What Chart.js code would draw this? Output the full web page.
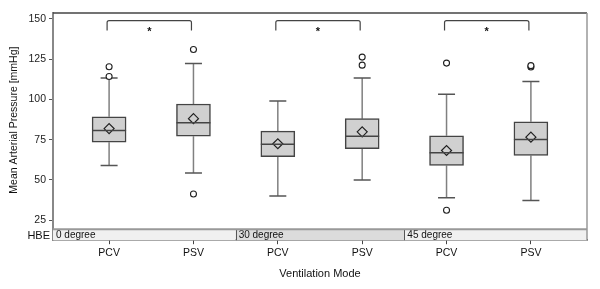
<!DOCTYPE html>
<html>
<head>
<meta charset="utf-8">
<script src="https://cdn.jsdelivr.net/npm/chart.js@4"></script>
<style>
  html, body { margin: 0; padding: 0; background: #fff; }
  #wrap { width: 600px; height: 289px; }
</style>
</head>
<body>
<div id="wrap"><canvas id="mapChart"></canvas></div>
<script>
// categories (x positions 0..5)
const modes = ['PCV', 'PSV', 'PCV', 'PSV', 'PCV', 'PSV'];
const panels = ['0 degree', '30 degree', '45 degree'];

// box statistics per category
const whiskerLow = [59, 54.3, 40, 50, 39, 37.2];
const q1 = [73.5, 77.2, 64.4, 69.4, 59, 65.2];
const median = [80.7, 85.5, 72.2, 77.2, 66.9, 75.1];
const q3 = [89.2, 97.2, 80.3, 88.1, 77.4, 86.1];
const whiskerHigh = [113.3, 122.4, 99.1, 113.3, 103.2, 111.2];
const means = [81.9, 88.1, 72.5, 79.9, 68.3, 76.6];
const outliers = [[114.3, 120.3], [131, 41.3], [], [121.3, 126.3], [122.6, 31.2], [120.2, 121]];

// significance brackets: [from, to]
const brackets = [[0, 1], [2, 3], [4, 5]];
const yTicks = [25, 50, 75, 100, 125, 150];

const FONT = '"Liberation Sans", Arial, sans-serif';

const outlierPoints = [];
outliers.forEach((list, i) => list.forEach(v => outlierPoints.push({ x: i, y: v })));

const extras = {
    id: 'extras',
    beforeDatasetsDraw(chart) {
        const { ctx, chartArea: a, scales: { x, y } } = chart;
        ctx.save();
        // HBE strip
        const sTop = y.getPixelForValue(19.4);
        const sBot = a.bottom;
        const edges = [a.left, x.getPixelForValue(1.5), x.getPixelForValue(3.5), a.right];
        const fills = ['#f0f0f0', '#dcdcdc', '#f0f0f0'];
        for (let p = 0; p < 3; p++) {
            ctx.fillStyle = fills[p];
            ctx.fillRect(edges[p], sTop, edges[p + 1] - edges[p], sBot - sTop);
            ctx.fillStyle = '#111';
            ctx.font = '10px ' + FONT;
            ctx.textBaseline = 'middle';
            ctx.textAlign = 'left';
            ctx.fillText(panels[p], edges[p] + 3, (sTop + sBot) / 2 + 1);
        }
        ctx.strokeStyle = '#555';
        ctx.lineWidth = 1;
        [edges[1], edges[2]].forEach(e => {
            ctx.beginPath();
            ctx.moveTo(Math.round(e) + 0.5, sTop);
            ctx.lineTo(Math.round(e) + 0.5, sBot);
            ctx.stroke();
        });
        ctx.strokeStyle = '#999';
        ctx.lineWidth = 2;
        ctx.beginPath();
        ctx.moveTo(a.left, sTop);
        ctx.lineTo(a.right, sTop);
        ctx.stroke();
        ctx.fillStyle = '#111';
        ctx.textAlign = 'right';
        ctx.font = '11px ' + FONT;
        ctx.fillText('HBE', a.left - 3, (sTop + sBot) / 2 + 1);

        // whiskers
        ctx.strokeStyle = '#808080';
        ctx.lineWidth = 1.5;
        modes.forEach((m, i) => {
            const cx = x.getPixelForValue(i);
            ctx.beginPath();
            ctx.moveTo(cx, y.getPixelForValue(whiskerLow[i]));
            ctx.lineTo(cx, y.getPixelForValue(q1[i]));
            ctx.moveTo(cx, y.getPixelForValue(q3[i]));
            ctx.lineTo(cx, y.getPixelForValue(whiskerHigh[i]));
            ctx.stroke();
            ctx.strokeStyle = '#555';
            ctx.beginPath();
            [whiskerLow[i], whiskerHigh[i]].forEach(v => {
                const py = y.getPixelForValue(v);
                ctx.moveTo(cx - 8.5, py);
                ctx.lineTo(cx + 8.5, py);
            });
            ctx.stroke();
            ctx.strokeStyle = '#808080';
        });

        // frame top and right
        ctx.strokeStyle = '#444';
        ctx.lineWidth = 1.5;
        ctx.beginPath();
        ctx.moveTo(a.left, a.top);
        ctx.lineTo(a.right, a.top);
        ctx.stroke();
        ctx.strokeStyle = '#999';
        ctx.beginPath();
        ctx.moveTo(a.right, a.top);
        ctx.lineTo(a.right, a.bottom);
        ctx.stroke();

        // y title
        ctx.save();
        ctx.translate(14, (a.top + sTop) / 2 - 1);
        ctx.rotate(-Math.PI / 2);
        ctx.textAlign = 'center';
        ctx.textBaseline = 'middle';
        ctx.fillStyle = '#111';
        ctx.font = '10.5px ' + FONT;
        ctx.fillText('Mean Arterial Pressure [mmHg]', 0, 0);
        ctx.restore();
        ctx.restore();
    },
    afterDatasetsDraw(chart) {
        const { ctx, scales: { x, y } } = chart;
        ctx.save();
        // medians
        ctx.strokeStyle = '#444';
        ctx.lineWidth = 1.5;
        modes.forEach((m, i) => {
            const cx = x.getPixelForValue(i);
            const py = y.getPixelForValue(median[i]);
            ctx.beginPath();
            ctx.moveTo(cx - 17, py);
            ctx.lineTo(cx + 17, py);
            ctx.stroke();
        });
        // brackets
        ctx.strokeStyle = '#444';
        ctx.lineWidth = 1.2;
        const top = y.getPixelForValue(149);
        const end = y.getPixelForValue(142.8);
        brackets.forEach(([f, t]) => {
            const x0 = x.getPixelForValue(f) - 2;
            const x1 = x.getPixelForValue(t) - 2;
            ctx.beginPath();
            ctx.moveTo(x0, end);
            ctx.lineTo(x0, top + 2);
            ctx.quadraticCurveTo(x0, top, x0 + 2, top);
            ctx.lineTo(x1 - 2, top);
            ctx.quadraticCurveTo(x1, top, x1, top + 2);
            ctx.lineTo(x1, end);
            ctx.stroke();
            ctx.fillStyle = '#111';
            ctx.font = 'bold 11px ' + FONT;
            ctx.textAlign = 'center';
            ctx.textBaseline = 'middle';
            ctx.fillText('*', (x0 + x1) / 2, end + 1);
        });
        ctx.restore();
    }
};

new Chart(document.getElementById('mapChart'), {
    data: {
        datasets: [{
            type: 'bar',
            data: modes.map((m, i) => ({ x: i, y: [q1[i], q3[i]] })),
            backgroundColor: '#d0d0d0',
            borderColor: '#444',
            borderWidth: 1.5,
            borderSkipped: false,
            barThickness: 34,
            order: 3
        }, {
            type: 'scatter',
            data: modes.map((m, i) => ({ x: i, y: means[i] })),
            pointStyle: 'rectRot',
            radius: 5,
            backgroundColor: 'rgba(0,0,0,0)',
            borderColor: '#222',
            borderWidth: 1.2,
            order: 1
        }, {
            type: 'scatter',
            data: outlierPoints,
            pointStyle: 'circle',
            radius: 3,
            backgroundColor: '#fff',
            borderColor: '#222',
            borderWidth: 1.1,
            order: 2
        }]
    },
    options: {
        responsive: true,
        maintainAspectRatio: false,
        animation: false,
        layout: { padding: { top: 13, right: 13, left: 0, bottom: 8 } },
        plugins: {
            legend: { display: false },
            tooltip: { enabled: false }
        },
        scales: {
            x: {
                type: 'linear',
                offset: false,
                min: -0.665,
                max: 5.665,
                afterBuildTicks: s => { s.ticks = modes.map((m, i) => ({ value: i })); },
                ticks: {
                    callback: v => modes[v],
                    color: '#111',
                    font: { size: 10.5, family: FONT },
                    padding: 3,
                    maxRotation: 0
                },
                grid: { offset: false, drawOnChartArea: false, tickLength: 4, color: '#444' },
                border: { color: '#333', width: 1.5 },
                title: {
                    display: true,
                    text: 'Ventilation Mode',
                    color: '#111',
                    font: { size: 11, family: FONT },
                    padding: { top: 5, bottom: 0 }
                }
            },
            y: {
                min: 12.6,
                max: 153.7,
                afterBuildTicks: s => { s.ticks = yTicks.map(v => ({ value: v })); },
                afterFit: s => { s.width = 53; },
                ticks: {
                    color: '#222',
                    font: { size: 10.5, family: FONT },
                    padding: 3
                },
                grid: { drawOnChartArea: false, tickLength: 4, color: '#555' },
                border: { color: '#888', width: 2 }
            }
        }
    },
    plugins: [extras]
});
</script>
</body>
</html>
